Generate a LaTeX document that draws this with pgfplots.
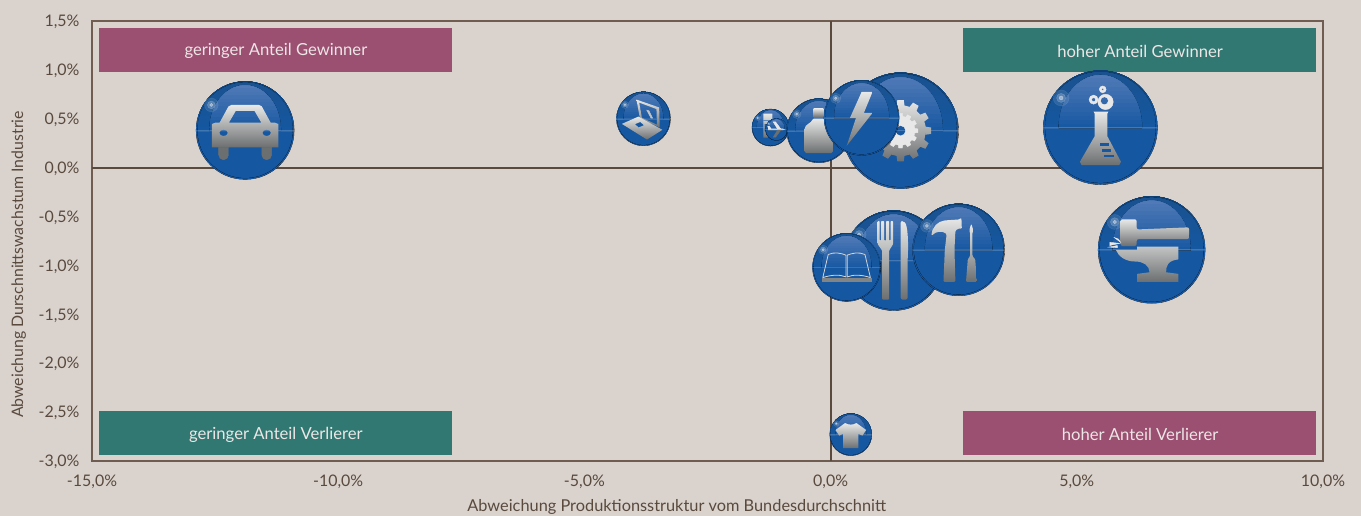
\documentclass[border=0pt]{standalone}
\usepackage{fontspec}
\setmainfont{Lato}
\usepackage{pgfplots}
\pgfplotsset{compat=1.18}

\definecolor{bg}{HTML}{D9D2CD}
\definecolor{txt}{HTML}{5A4A3E}
\definecolor{frame}{HTML}{6E5D50}
\definecolor{plum}{HTML}{9B4F71}
\definecolor{teal}{HTML}{327872}
\definecolor{boxtxt}{HTML}{EDE6E6}
\definecolor{blue0}{HTML}{1557A0}
\definecolor{rimT}{HTML}{0E3F70}
\definecolor{innerT}{HTML}{1A5290}
\definecolor{glossT}{HTML}{5079B6}
\definecolor{glossB}{HTML}{1859A3}
\definecolor{iconT}{HTML}{E8E8E8}
\definecolor{iconB}{HTML}{6C6F70}

\tikzset{icon/.style={top color=iconT,bottom color=iconB,draw=none,even odd rule}}

% painted bands instead of \shade: shadings get a dark edge in the raster
\newcommand\bands[3]{% top colour, bottom colour, height
  \fill[#2] (-1.01,-1.01) rectangle (1.01,1.01);
  \foreach \i in {1,...,12} {
    \pgfmathsetmacro\p{100*\i/12}
    \pgfmathsetmacro\yy{#3*\i/12}
    \fill[#1!\p!#2] (-1.01,\yy) rectangle (1.01,1.01);
  }
}
% glass ball, radius 1 in the units of the mark
\newcommand\ball{%
  \begin{scope}\clip (0,0) circle (1); \bands{rimT}{blue0}{.97}\end{scope}
  \begin{scope}\clip (0,0) circle (.97); \bands{innerT}{blue0}{.92}\end{scope}
  \begin{scope}\clip (-.73,-.01) -- (-.73,0) arc[start angle=180,end angle=0,x radius=.73,y radius=.92] -- (.73,-.01) -- cycle; \bands{glossT}{glossB}{.88}\end{scope}
  \fill[white,opacity=.1] (-.69,.52) circle (.14);
  \fill[white,opacity=.2] (-.69,.52) circle (.08);
  \fill[white,opacity=.4] (-.69,.52) circle (.035);
  \fill[white,opacity=.1] (-1,-.006) rectangle (1,.006);
}
\newcommand\iconmark[2]{%
  \pgfdeclareplotmark{#1}{%
    \begin{scope}[x=\the\pgfplotmarksize,y=\the\pgfplotmarksize]
      \ball
      #2
    \end{scope}}%
}

\iconmark{car}{
  \shade[icon] (-.68,-.345) -- (-.68,.13) -- (-.6,.16) -- (-.52,.16) -- (-.34,.49) -- (-.28,.52) -- (.28,.52) -- (.34,.49) -- (.52,.16) -- (.6,.16) -- (.68,.13) -- (.68,-.345) -- cycle
    (-.33,.16) -- (-.19,.4) -- (.19,.4) -- (.33,.16) -- cycle
    (-.44,-.05) ellipse (.085 and .065) (.44,-.05) ellipse (.085 and .065);
  \fill[iconB] (-.54,-.345) -- (-.54,-.5) arc[start angle=180,end angle=360,radius=.1] -- (-.34,-.345) -- cycle;
  \fill[iconB] (.34,-.345) -- (.34,-.5) arc[start angle=180,end angle=360,radius=.1] -- (.54,-.345) -- cycle;
}
\iconmark{laptop}{
  \shade[icon] (-.26,.71) -- (.58,.42) -- (.6,-.32) -- (-.13,.0) -- cycle
    (-.16,.6) -- (.48,.36) -- (.5,-.22) -- (-.06,.04) -- cycle;
  \fill[iconT!70!iconB] (.12,.32) -- (.2,.3) -- (.34,.02) -- (.28,.02) -- cycle;
  \shade[icon] (-.8,-.19) -- (-.19,.08) -- (.7,-.41) -- (.13,-.77) -- cycle
    (-.32,-.2) -- (-.12,-.12) -- (.02,-.24) -- (-.18,-.32) -- cycle;
}
\iconmark{pills}{
  \shade[icon] (-.38,.76) -- (.1,.76) -- (.1,-.55) -- (-.38,-.55) -- cycle
    (-.38,.42) -- (.1,.42) -- (.1,.38) -- (-.38,.38) -- cycle
    (-.32,.2) -- (-.18,.2) -- (-.18,-.2) -- (-.32,-.2) -- cycle;
}
\iconmark{plane}{
  \begin{scope}[rotate=-25]
    \shade[icon] (-.75,-.08) -- (.55,-.08) -- (.8,0) -- (.55,.08) -- (-.75,.08) -- cycle;
    \fill[iconT] (.1,.05) -- (-.3,.7) -- (-.08,.7) -- (.4,.05) -- cycle;
    \fill[iconB] (.1,-.05) -- (-.3,-.7) -- (-.08,-.7) -- (.4,-.05) -- cycle;
    \fill[iconT] (-.72,.05) -- (-.8,.32) -- (-.65,.32) -- (-.48,.05) -- cycle;
  \end{scope}
}
\iconmark{bottle}{
  \shade[icon] (-.16,.7) -- (.14,.7) -- (.14,.42) -- (-.16,.42) -- cycle;
  \shade[icon,rounded corners=1.5pt] (-.44,-.7) -- (-.44,.02) .. controls (-.44,.2) and (-.22,.24) .. (-.2,.38) -- (.18,.38) .. controls (.2,.24) and (.44,.2) .. (.44,.02) -- (.44,-.7) -- cycle;
}
\iconmark{gearS}{
  \begin{scope}[shift={(.1,-.23)}]
    \shade[icon] (0:.44) \foreach \a in {0,30,...,330} { -- (\a-9:.44) -- (\a-6:.53) -- (\a+6:.53) -- (\a+9:.44)} -- cycle
      (0,0) circle (.14);
  \end{scope}
  \begin{scope}[shift={(-.16,.5)}]
    \fill[iconT,even odd rule] (0:.25) \foreach \a in {0,30,...,330} { -- (\a-9:.25) -- (\a-6:.3) -- (\a+6:.3) -- (\a+9:.25)} -- cycle
      (0,0) circle (.09);
  \end{scope}
}
\iconmark{bolt}{
  \shade[icon] (0,.69) -- (.29,.69) -- (.06,.13) -- (.29,.13) -- (-.4,-.75) -- (-.15,0) -- (-.31,0) -- cycle;
}
\iconmark{flask}{
  \shade[icon] (-.12,.28) -- (.14,.28) -- (.12,.24) -- (.12,-.15) -- (.36,-.6) -- (.33,-.66) -- (-.33,-.66) -- (-.36,-.6) -- (-.1,-.15) -- (-.1,.24) -- cycle;
  \fill[blue0] (0,-.28) rectangle (.14,-.31);
  \fill[blue0] (.03,-.38) rectangle (.17,-.41);
  \fill[blue0] (.07,-.48) rectangle (.22,-.51);
  \fill[iconT,even odd rule] (.09,.45) circle (.135) (.07,.47) circle (.07);
  \fill[iconT,even odd rule] (-.12,.49) circle (.08) (-.12,.49) circle (.035);
  \fill[iconT,even odd rule] (.04,.67) circle (.06) (.04,.67) circle (.025);
}
\iconmark{anvil}{
  \shade[icon,rounded corners=2pt] (-.58,.57) -- (-.28,.57) -- (-.28,.38) -- (.7,.42) -- (.7,.2) -- (-.28,.2) -- (-.28,.07) -- (-.58,.07) -- cycle;
  \shade[top color=iconT!70!iconB,bottom color=iconB,draw=none] (-.67,.0) -- (-.27,.0) -- (-.27,.06) -- (.5,.06) -- (.5,-.18) .. controls (.3,-.2) and (.27,-.3) .. (.27,-.42) -- (.5,-.45) -- (.5,-.6) -- (-.27,-.6) -- (-.27,-.45) -- (-.04,-.42) .. controls (-.04,-.3) and (-.15,-.22) .. (-.3,-.22) .. controls (-.5,-.22) and (-.62,-.12) .. cycle;
  \fill[iconT] (-.7,.23) -- (-.62,.2) -- (-.58,.14) -- cycle;
  \fill[iconT] (-.78,.14) -- (-.6,.12) -- (-.78,.08) -- cycle;
  \fill[iconT] (-.8,.05) -- (-.64,.08) -- (-.64,.04) -- cycle;
}
\iconmark{tools}{
  \shade[icon,rounded corners=1.2pt] (-.59,.3) .. controls (-.58,.5) and (-.45,.62) .. (-.28,.64) -- (.02,.66) -- (.06,.7) -- (.07,.45) -- (.02,.47) -- (-.07,.42) -- (-.09,.0) -- (-.07,-.7) -- (-.33,-.7) -- (-.3,.0) -- (-.26,.34) .. controls (-.36,.42) and (-.5,.4) .. (-.59,.3) -- cycle;
  \shade[icon,rounded corners=1.2pt] (.275,.57) -- (.32,.42) -- (.3,.38) -- (.3,-.14) -- (.36,-.2) -- (.4,-.7) -- (.16,-.7) -- (.2,-.2) -- (.25,-.14) -- (.25,.38) -- (.23,.42) -- cycle;
}
\iconmark{cutlery}{
  \shade[icon,rounded corners=.8pt] (-.32,.79) -- (-.28,.79) -- (-.28,.4) -- (-.25,.4) -- (-.25,.79) -- (-.19,.79) -- (-.19,.4) -- (-.15,.4) -- (-.15,.79) -- (-.09,.79) -- (-.09,.4) -- (-.06,.4) -- (-.06,.79) -- (-.01,.79) -- (-.01,.33) -- (-.09,.2) -- (-.09,-.78) -- (-.23,-.78) -- (-.23,.2) -- (-.32,.33) -- cycle;
  \shade[icon,rounded corners=2pt] (.2,.79) .. controls (.28,.7) and (.3,.4) .. (.28,.0) -- (.28,-.78) -- (.14,-.78) -- (.14,.79) -- cycle;
}
\iconmark{book}{
  \begin{scope}[draw=iconT!85!iconB,line width=.8pt]
    \draw (-.7,-.3) -- (-.54,.38) .. controls (-.36,.46) and (-.16,.42) .. (-.02,.36) -- (-.02,-.28) .. controls (-.2,-.2) and (-.46,-.22) .. (-.7,-.3);
    \draw (.7,-.3) -- (.54,.38) .. controls (.36,.46) and (.16,.42) .. (.02,.36) -- (.02,-.28) .. controls (.2,-.2) and (.46,-.22) .. (.7,-.3);
  \end{scope}
  \fill[iconB!85!white] (-.72,-.32) -- (.72,-.32) -- (.72,-.4) -- (-.72,-.4) -- cycle;
}
\iconmark{shirt}{
  \shade[icon] (-.73,.22) -- (-.27,.55) .. controls (-.1,.45) and (.1,.45) .. (.27,.55) -- (.73,.22) -- (.55,-.05) -- (.36,.04) -- (.36,-.65) -- (-.36,-.65) -- (-.36,.04) -- (-.55,-.05) -- cycle;
}

\begin{document}
\begin{tikzpicture}[x=1bp,y=1bp]
\useasboundingbox (0,0) rectangle (1361,516);
\fill[bg] (0,0) rectangle (1361,516);
\begin{axis}[
    at={(92bp,55bp)},
    anchor=south west,
    scale only axis,
    width=1231bp,
    height=440bp,
    xmin=-15, xmax=10,
    ymin=-3, ymax=1.5,
    clip=false,
    axis line style={draw=frame,line width=1.3bp},
    major tick length=0pt,
    xtick={-15,-10,-5,0,5,10},
    xticklabels={{-15,0\%},{-10,0\%},{-5,0\%},{0,0\%},{5,0\%},{10,0\%}},
    ytick={-3,-2.5,-2,-1.5,-1,-0.5,0,0.5,1,1.5},
    yticklabels={{-3,0\%},{-2,5\%},{-2,0\%},{-1,5\%},{-1,0\%},{-0,5\%},{0,0\%},{0,5\%},{1,0\%},{1,5\%}},
    tick label style={font=\fontsize{16}{19}\selectfont,text=txt},
    xtick align=outside,
    ytick align=outside,
    xticklabel style={yshift=-10bp},
    yticklabel style={xshift=-9bp,yshift=-1bp},
    xlabel={Abweichung Produktionsstruktur vom Bundesdurchschnitt},
    ylabel={Abweichung Durschnittswachstum Industrie},
    every axis x label/.style={at={(axis description cs:0.475,-0.105)},anchor=center,font=\fontsize{16.4}{19}\selectfont,text=txt},
    every axis y label/.style={at={(axis description cs:-0.0595,0.4466)},anchor=center,rotate=90,font=\fontsize{15.9}{19}\selectfont,text=txt},
]
\draw[txt,line width=2bp] (axis cs:-15,0) -- (axis cs:10,0);
\draw[txt,line width=2bp] (axis cs:0,-3) -- (axis cs:0,1.5);

\fill[plum] (axis cs:-14.85,0.982) rectangle (axis cs:-7.68,1.431);
\fill[teal] (axis cs:2.68,0.982) rectangle (axis cs:9.85,1.431);
\fill[teal] (axis cs:-14.85,-2.935) rectangle (axis cs:-7.68,-2.485);
\fill[plum] (axis cs:2.68,-2.935) rectangle (axis cs:9.85,-2.485);
\begin{scope}[every node/.style={font=\fontsize{16.7}{19}\selectfont,text=boxtxt}]
\node at (axis cs:-11.265,1.19) {geringer Anteil Gewinner};
\node at (axis cs:6.285,1.19) {hoher Anteil Gewinner};
\node at (axis cs:-11.265,-2.73) {geringer Anteil Verlierer};
\node at (axis cs:6.285,-2.73) {hoher Anteil Verlierer};
\end{scope}

\addplot[only marks,mark=car,mark size=49bp] coordinates {(-11.89,0.381)};
\addplot[only marks,mark=laptop,mark size=27bp] coordinates {(-3.80,0.50)};
\addplot[only marks,mark=pills,mark size=18.5bp] coordinates {(-1.22,0.41)};
\addplot[only marks,mark=plane,mark size=11bp] coordinates {(-1.10,0.39)};
\addplot[only marks,mark=gearS,mark size=58bp] coordinates {(1.42,0.378)};
\addplot[only marks,mark=bottle,mark size=32bp] coordinates {(-0.24,0.378)};
\addplot[only marks,mark=bolt,mark size=37.5bp] coordinates {(0.63,0.51)};
\addplot[only marks,mark=flask,mark size=57bp] coordinates {(5.48,0.41)};
\addplot[only marks,mark=anvil,mark size=53.5bp] coordinates {(6.52,-0.84)};
\addplot[only marks,mark=cutlery,mark size=50bp] coordinates {(1.28,-0.95)};
\addplot[only marks,mark=tools,mark size=46bp] coordinates {(2.60,-0.84)};
\addplot[only marks,mark=book,mark size=34bp] coordinates {(0.325,-1.02)};
\addplot[only marks,mark=shirt,mark size=21bp] coordinates {(0.41,-2.73)};

% the balls are glass: the zero lines show through faintly
\draw[txt,opacity=.2,line width=2bp] (axis cs:-15,0) -- (axis cs:10,0);
\draw[txt,opacity=.2,line width=2bp] (axis cs:0,-3) -- (axis cs:0,1.5);
\end{axis}
\end{tikzpicture}
\end{document}
